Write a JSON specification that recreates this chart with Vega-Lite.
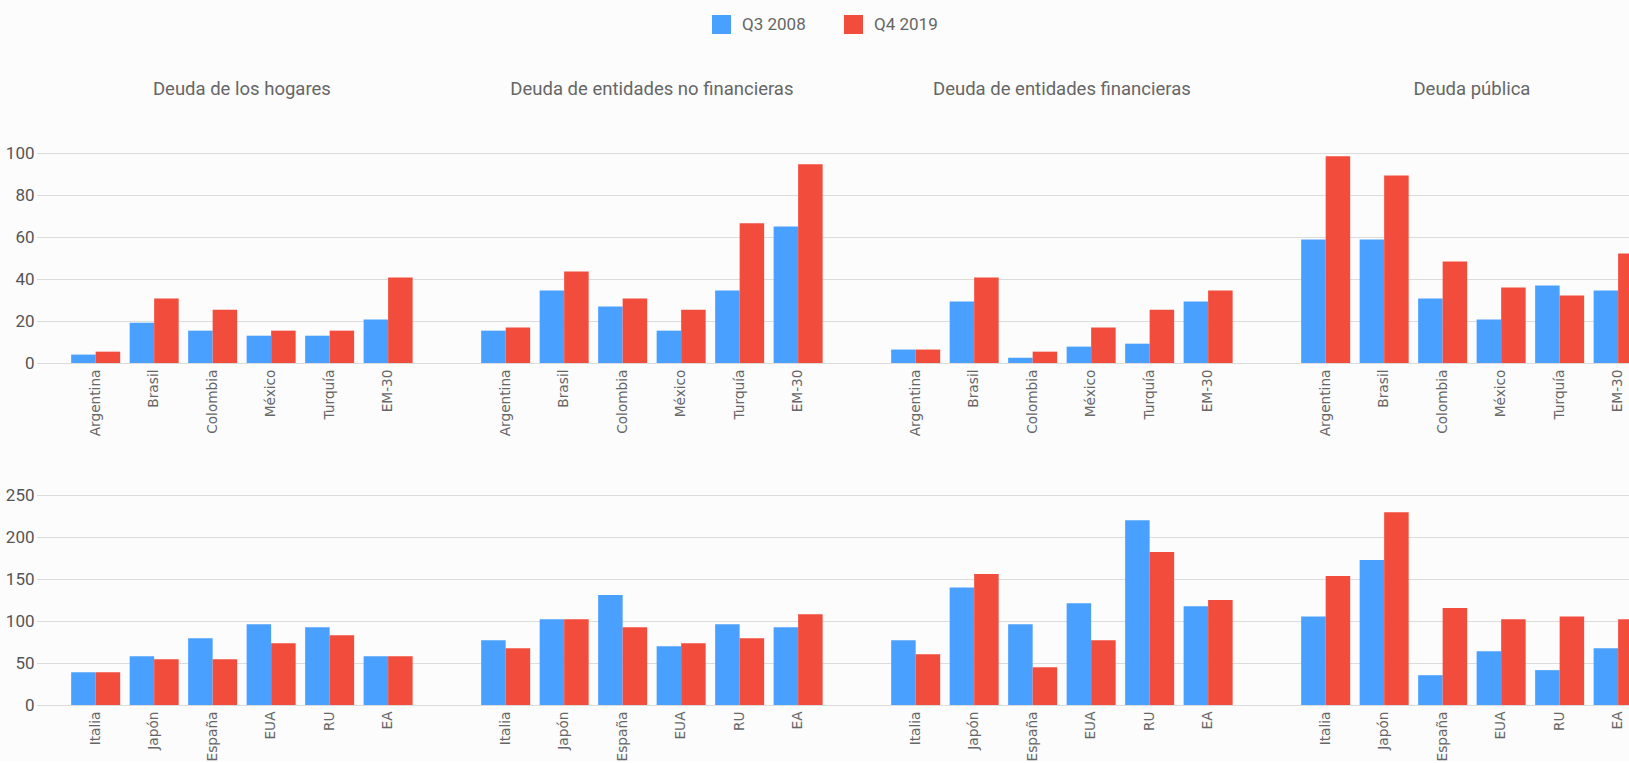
{
  "$schema": "https://vega.github.io/schema/vega-lite/v6.json",
  "background": "#fcfcfc",
  "padding": {"left": 5, "top": 15, "right": 5, "bottom": 0},
  "datasets": {
    "em": [
      {"sector": "Deuda de los hogares", "pais": "Argentina", "periodo": "Q3 2008", "valor": 4.0},
      {"sector": "Deuda de los hogares", "pais": "Argentina", "periodo": "Q4 2019", "valor": 5.4},
      {"sector": "Deuda de los hogares", "pais": "Brasil", "periodo": "Q3 2008", "valor": 19.2},
      {"sector": "Deuda de los hogares", "pais": "Brasil", "periodo": "Q4 2019", "valor": 30.7},
      {"sector": "Deuda de los hogares", "pais": "Colombia", "periodo": "Q3 2008", "valor": 15.4},
      {"sector": "Deuda de los hogares", "pais": "Colombia", "periodo": "Q4 2019", "valor": 25.4},
      {"sector": "Deuda de los hogares", "pais": "México", "periodo": "Q3 2008", "valor": 13.0},
      {"sector": "Deuda de los hogares", "pais": "México", "periodo": "Q4 2019", "valor": 15.4},
      {"sector": "Deuda de los hogares", "pais": "Turquía", "periodo": "Q3 2008", "valor": 13.0},
      {"sector": "Deuda de los hogares", "pais": "Turquía", "periodo": "Q4 2019", "valor": 15.4},
      {"sector": "Deuda de los hogares", "pais": "EM-30", "periodo": "Q3 2008", "valor": 20.7},
      {"sector": "Deuda de los hogares", "pais": "EM-30", "periodo": "Q4 2019", "valor": 40.7},
      {"sector": "Deuda de entidades no financieras", "pais": "Argentina", "periodo": "Q3 2008", "valor": 15.4},
      {"sector": "Deuda de entidades no financieras", "pais": "Argentina", "periodo": "Q4 2019", "valor": 16.9},
      {"sector": "Deuda de entidades no financieras", "pais": "Brasil", "periodo": "Q3 2008", "valor": 34.5},
      {"sector": "Deuda de entidades no financieras", "pais": "Brasil", "periodo": "Q4 2019", "valor": 43.6},
      {"sector": "Deuda de entidades no financieras", "pais": "Colombia", "periodo": "Q3 2008", "valor": 26.9},
      {"sector": "Deuda de entidades no financieras", "pais": "Colombia", "periodo": "Q4 2019", "valor": 30.7},
      {"sector": "Deuda de entidades no financieras", "pais": "México", "periodo": "Q3 2008", "valor": 15.4},
      {"sector": "Deuda de entidades no financieras", "pais": "México", "periodo": "Q4 2019", "valor": 25.4},
      {"sector": "Deuda de entidades no financieras", "pais": "Turquía", "periodo": "Q3 2008", "valor": 34.5},
      {"sector": "Deuda de entidades no financieras", "pais": "Turquía", "periodo": "Q4 2019", "valor": 66.5},
      {"sector": "Deuda de entidades no financieras", "pais": "EM-30", "periodo": "Q3 2008", "valor": 65.0},
      {"sector": "Deuda de entidades no financieras", "pais": "EM-30", "periodo": "Q4 2019", "valor": 94.6},
      {"sector": "Deuda de entidades financieras", "pais": "Argentina", "periodo": "Q3 2008", "valor": 6.4},
      {"sector": "Deuda de entidades financieras", "pais": "Argentina", "periodo": "Q4 2019", "valor": 6.4},
      {"sector": "Deuda de entidades financieras", "pais": "Brasil", "periodo": "Q3 2008", "valor": 29.3},
      {"sector": "Deuda de entidades financieras", "pais": "Brasil", "periodo": "Q4 2019", "valor": 40.7},
      {"sector": "Deuda de entidades financieras", "pais": "Colombia", "periodo": "Q3 2008", "valor": 2.5},
      {"sector": "Deuda de entidades financieras", "pais": "Colombia", "periodo": "Q4 2019", "valor": 5.4},
      {"sector": "Deuda de entidades financieras", "pais": "México", "periodo": "Q3 2008", "valor": 7.8},
      {"sector": "Deuda de entidades financieras", "pais": "México", "periodo": "Q4 2019", "valor": 16.9},
      {"sector": "Deuda de entidades financieras", "pais": "Turquía", "periodo": "Q3 2008", "valor": 9.2},
      {"sector": "Deuda de entidades financieras", "pais": "Turquía", "periodo": "Q4 2019", "valor": 25.4},
      {"sector": "Deuda de entidades financieras", "pais": "EM-30", "periodo": "Q3 2008", "valor": 29.3},
      {"sector": "Deuda de entidades financieras", "pais": "EM-30", "periodo": "Q4 2019", "valor": 34.5},
      {"sector": "Deuda pública", "pais": "Argentina", "periodo": "Q3 2008", "valor": 58.8},
      {"sector": "Deuda pública", "pais": "Argentina", "periodo": "Q4 2019", "valor": 98.4},
      {"sector": "Deuda pública", "pais": "Brasil", "periodo": "Q3 2008", "valor": 58.8},
      {"sector": "Deuda pública", "pais": "Brasil", "periodo": "Q4 2019", "valor": 89.3},
      {"sector": "Deuda pública", "pais": "Colombia", "periodo": "Q3 2008", "valor": 30.7},
      {"sector": "Deuda pública", "pais": "Colombia", "periodo": "Q4 2019", "valor": 48.3},
      {"sector": "Deuda pública", "pais": "México", "periodo": "Q3 2008", "valor": 20.7},
      {"sector": "Deuda pública", "pais": "México", "periodo": "Q4 2019", "valor": 35.9},
      {"sector": "Deuda pública", "pais": "Turquía", "periodo": "Q3 2008", "valor": 36.9},
      {"sector": "Deuda pública", "pais": "Turquía", "periodo": "Q4 2019", "valor": 32.1},
      {"sector": "Deuda pública", "pais": "EM-30", "periodo": "Q3 2008", "valor": 34.5},
      {"sector": "Deuda pública", "pais": "EM-30", "periodo": "Q4 2019", "valor": 52.1}
    ],
    "av": [
      {"sector": "Deuda de los hogares", "pais": "Italia", "periodo": "Q3 2008", "valor": 39},
      {"sector": "Deuda de los hogares", "pais": "Italia", "periodo": "Q4 2019", "valor": 39},
      {"sector": "Deuda de los hogares", "pais": "Japón", "periodo": "Q3 2008", "valor": 58},
      {"sector": "Deuda de los hogares", "pais": "Japón", "periodo": "Q4 2019", "valor": 54.5},
      {"sector": "Deuda de los hogares", "pais": "España", "periodo": "Q3 2008", "valor": 79.5},
      {"sector": "Deuda de los hogares", "pais": "España", "periodo": "Q4 2019", "valor": 54.5},
      {"sector": "Deuda de los hogares", "pais": "EUA", "periodo": "Q3 2008", "valor": 96},
      {"sector": "Deuda de los hogares", "pais": "EUA", "periodo": "Q4 2019", "valor": 73.5},
      {"sector": "Deuda de los hogares", "pais": "RU", "periodo": "Q3 2008", "valor": 92.5},
      {"sector": "Deuda de los hogares", "pais": "RU", "periodo": "Q4 2019", "valor": 83},
      {"sector": "Deuda de los hogares", "pais": "EA", "periodo": "Q3 2008", "valor": 58},
      {"sector": "Deuda de los hogares", "pais": "EA", "periodo": "Q4 2019", "valor": 58},
      {"sector": "Deuda de entidades no financieras", "pais": "Italia", "periodo": "Q3 2008", "valor": 77},
      {"sector": "Deuda de entidades no financieras", "pais": "Italia", "periodo": "Q4 2019", "valor": 67.5},
      {"sector": "Deuda de entidades no financieras", "pais": "Japón", "periodo": "Q3 2008", "valor": 102},
      {"sector": "Deuda de entidades no financieras", "pais": "Japón", "periodo": "Q4 2019", "valor": 102},
      {"sector": "Deuda de entidades no financieras", "pais": "España", "periodo": "Q3 2008", "valor": 131},
      {"sector": "Deuda de entidades no financieras", "pais": "España", "periodo": "Q4 2019", "valor": 92.5},
      {"sector": "Deuda de entidades no financieras", "pais": "EUA", "periodo": "Q3 2008", "valor": 70},
      {"sector": "Deuda de entidades no financieras", "pais": "EUA", "periodo": "Q4 2019", "valor": 73.5},
      {"sector": "Deuda de entidades no financieras", "pais": "RU", "periodo": "Q3 2008", "valor": 96},
      {"sector": "Deuda de entidades no financieras", "pais": "RU", "periodo": "Q4 2019", "valor": 79.5},
      {"sector": "Deuda de entidades no financieras", "pais": "EA", "periodo": "Q3 2008", "valor": 92.5},
      {"sector": "Deuda de entidades no financieras", "pais": "EA", "periodo": "Q4 2019", "valor": 108},
      {"sector": "Deuda de entidades financieras", "pais": "Italia", "periodo": "Q3 2008", "valor": 77},
      {"sector": "Deuda de entidades financieras", "pais": "Italia", "periodo": "Q4 2019", "valor": 60.5},
      {"sector": "Deuda de entidades financieras", "pais": "Japón", "periodo": "Q3 2008", "valor": 140},
      {"sector": "Deuda de entidades financieras", "pais": "Japón", "periodo": "Q4 2019", "valor": 156},
      {"sector": "Deuda de entidades financieras", "pais": "España", "periodo": "Q3 2008", "valor": 96},
      {"sector": "Deuda de entidades financieras", "pais": "España", "periodo": "Q4 2019", "valor": 45},
      {"sector": "Deuda de entidades financieras", "pais": "EUA", "periodo": "Q3 2008", "valor": 121},
      {"sector": "Deuda de entidades financieras", "pais": "EUA", "periodo": "Q4 2019", "valor": 77},
      {"sector": "Deuda de entidades financieras", "pais": "RU", "periodo": "Q3 2008", "valor": 220},
      {"sector": "Deuda de entidades financieras", "pais": "RU", "periodo": "Q4 2019", "valor": 182},
      {"sector": "Deuda de entidades financieras", "pais": "EA", "periodo": "Q3 2008", "valor": 117.5},
      {"sector": "Deuda de entidades financieras", "pais": "EA", "periodo": "Q4 2019", "valor": 125},
      {"sector": "Deuda pública", "pais": "Italia", "periodo": "Q3 2008", "valor": 105.5},
      {"sector": "Deuda pública", "pais": "Italia", "periodo": "Q4 2019", "valor": 153.5},
      {"sector": "Deuda pública", "pais": "Japón", "periodo": "Q3 2008", "valor": 172.5},
      {"sector": "Deuda pública", "pais": "Japón", "periodo": "Q4 2019", "valor": 229.5},
      {"sector": "Deuda pública", "pais": "España", "periodo": "Q3 2008", "valor": 35.5},
      {"sector": "Deuda pública", "pais": "España", "periodo": "Q4 2019", "valor": 115.5},
      {"sector": "Deuda pública", "pais": "EUA", "periodo": "Q3 2008", "valor": 64},
      {"sector": "Deuda pública", "pais": "EUA", "periodo": "Q4 2019", "valor": 102},
      {"sector": "Deuda pública", "pais": "RU", "periodo": "Q3 2008", "valor": 41.5},
      {"sector": "Deuda pública", "pais": "RU", "periodo": "Q4 2019", "valor": 105.5},
      {"sector": "Deuda pública", "pais": "EA", "periodo": "Q3 2008", "valor": 67.5},
      {"sector": "Deuda pública", "pais": "EA", "periodo": "Q4 2019", "valor": 102}
    ]
  },
  "config": {
    "view": {"stroke": null},
    "font": "Roboto",
    "axisX": {"grid": false, "domain": false, "ticks": false, "labelAngle": -90, "labelAlign": "right", "labelBaseline": "middle", "labelFont": "DejaVu Sans", "labelFontSize": 13.7, "labelColor": "#666666", "labelPadding": 6, "title": null},
    "axisY": {"grid": true, "gridColor": "#bdbdbd", "gridDash": [1, 1], "gridWidth": 1, "domain": false, "ticks": false, "labelFont": "Roboto", "labelFontSize": 17, "labelColor": "#555555", "labelPadding": 3, "title": null}
  },
  "spacing": 50,
  "vconcat": [
    {
      "data": {"name": "em"},
      "spacing": 0,
      "facet": {
        "column": {
          "field": "sector", "type": "nominal",
          "sort": ["Deuda de los hogares", "Deuda de entidades no financieras", "Deuda de entidades financieras", "Deuda pública"],
          "header": {"title": null, "labelFont": "Roboto", "labelFontSize": 18.5, "labelColor": "#666666", "labelPadding": 36, "labelBaseline": "bottom"}
        }
      },
      "spec": {
        "width": 409.8,
        "height": 210,
        "mark": {"type": "bar"},
        "encoding": {
          "x": {"field": "pais", "type": "nominal", "sort": ["Argentina", "Brasil", "Colombia", "México", "Turquía", "EM-30"], "scale": {"paddingInner": 0.162, "paddingOuter": 0.584}},
          "xOffset": {"field": "periodo", "type": "nominal", "sort": ["Q3 2008", "Q4 2019"]},
          "y": {"field": "valor", "type": "quantitative", "scale": {"domain": [0, 100]}, "axis": {"values": [0, 20, 40, 60, 80, 100]}},
          "color": {"field": "periodo", "type": "nominal", "scale": {"domain": ["Q3 2008", "Q4 2019"], "range": ["#4aa0fe", "#f24c3c"]},
            "legend": {"orient": "none", "legendX": 675, "legendY": -138, "direction": "horizontal", "title": null, "symbolType": "square", "symbolSize": 361, "symbolStrokeWidth": 0, "labelFont": "Roboto", "labelFontSize": 17, "labelColor": "#666666", "labelOffset": 11, "columnPadding": 38}}
        }
      }
    },
    {
      "data": {"name": "av"},
      "spacing": 0,
      "facet": {
        "column": {
          "field": "sector", "type": "nominal",
          "sort": ["Deuda de los hogares", "Deuda de entidades no financieras", "Deuda de entidades financieras", "Deuda pública"],
          "header": {"title": null, "labels": false}
        }
      },
      "spec": {
        "width": 409.8,
        "height": 210,
        "mark": {"type": "bar"},
        "encoding": {
          "x": {"field": "pais", "type": "nominal", "sort": ["Italia", "Japón", "España", "EUA", "RU", "EA"], "scale": {"paddingInner": 0.162, "paddingOuter": 0.584}},
          "xOffset": {"field": "periodo", "type": "nominal", "sort": ["Q3 2008", "Q4 2019"]},
          "y": {"field": "valor", "type": "quantitative", "scale": {"domain": [0, 250]}, "axis": {"values": [0, 50, 100, 150, 200, 250]}},
          "color": {"field": "periodo", "type": "nominal", "scale": {"domain": ["Q3 2008", "Q4 2019"], "range": ["#4aa0fe", "#f24c3c"]},
            "legend": {"orient": "none", "legendX": 675, "legendY": -138, "direction": "horizontal", "title": null, "symbolType": "square", "symbolSize": 361, "symbolStrokeWidth": 0, "labelFont": "Roboto", "labelFontSize": 17, "labelColor": "#666666", "labelOffset": 11, "columnPadding": 38}}
        }
      }
    }
  ]
}
